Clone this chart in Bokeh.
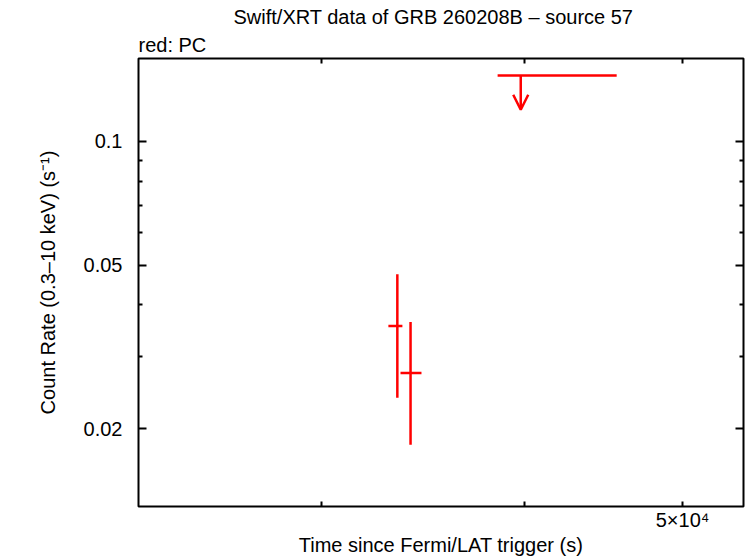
from bokeh.plotting import figure
from bokeh.models import (ColumnDataSource, LogAxis, FixedTicker, Title, Arrow,
                          OpenHead, Range1d)
from bokeh.embed import file_html
from bokeh.resources import INLINE

# ---- data ----
pc_time = [33400, 34030]
pc_time_lo = [32980, 33550]
pc_time_hi = [33640, 34560]
pc_rate = [0.03556, 0.02734]
pc_rate_lo = [0.02378, 0.01829]
pc_rate_hi = [0.04753, 0.03636]

ul_time = [39770]
ul_time_lo = [38490]
ul_time_hi = [45550]
ul_rate = [0.1446]

x_limits = [23160, 54500]
y_limits = [0.01294, 0.159]

x_ticks = [30000, 40000, 50000]
x_tick_labels = ["", "", "5×10⁴"]
y_major_ticks = [0.02, 0.05, 0.1]
y_major_labels = ["0.02", "0.05", "0.1"]
y_minor_ticks = [0.03, 0.04, 0.06, 0.07, 0.08, 0.09]

title_text = "Swift/XRT data of GRB 260208B – source 57"
subtitle_text = "red: PC"
x_label = "Time since Fermi/LAT trigger (s)"
y_label = "Count Rate (0.3–10 keV) (s⁻¹)"

# ---- style ----
FONT = "Liberation Sans"
FS = "20px"
RED = "#ff0000"
LW = 2.5

p = figure(width=746, height=558, x_axis_type="log", y_axis_type="log",
           x_range=Range1d(*x_limits), y_range=Range1d(*y_limits),
           output_backend="svg", toolbar_location=None, title=None,
           min_border_left=138, min_border_right=3,
           min_border_top=58, min_border_bottom=51)
p.grid.visible = False
p.background_fill_color = "white"
p.border_fill_color = "white"
p.outline_line_color = "black"
p.outline_line_width = 2

xt = FixedTicker(ticks=x_ticks, minor_ticks=[])
yt = FixedTicker(ticks=y_major_ticks, minor_ticks=y_minor_ticks)

def style_axis(ax, labels=True, major_len=8):
    ax.axis_line_color = None
    ax.major_tick_in = major_len
    ax.major_tick_out = 0
    ax.minor_tick_in = 4
    ax.minor_tick_out = 0
    ax.major_tick_line_width = 2
    ax.minor_tick_line_width = 2
    ax.major_tick_line_color = "black"
    ax.minor_tick_line_color = "black"
    ax.major_label_text_font = FONT
    ax.major_label_text_font_size = FS if labels else "0px"
    ax.major_label_text_color = "black"
    ax.axis_label_text_font = FONT
    ax.axis_label_text_font_size = FS
    ax.axis_label_text_font_style = "normal"
    ax.axis_label_text_color = "black"
    if not labels:
        ax.major_label_standoff = 0

xa = p.xaxis[0]
xa.ticker = xt
xa.major_label_overrides = dict(zip(x_ticks, x_tick_labels))
xa.axis_label = x_label
style_axis(xa, major_len=5)
xa.major_label_standoff = 2
xa.axis_label_standoff = 0

ya = p.yaxis[0]
ya.ticker = yt
ya.major_label_overrides = dict(zip(y_major_ticks, y_major_labels))
ya.axis_label = y_label
style_axis(ya)
ya.major_label_standoff = 16
ya.axis_label_standoff = 22

top = LogAxis(ticker=xt)
style_axis(top, labels=False, major_len=5)
top.major_label_overrides = {t: "" for t in x_ticks}
p.add_layout(top, "above")

right = LogAxis(ticker=yt)
style_axis(right, labels=False)
right.major_label_overrides = {t: "" for t in y_major_ticks}
p.add_layout(right, "right")

p.add_layout(Title(text=subtitle_text, align="left", text_font=FONT,
                   text_font_size=FS, text_font_style="normal",
                   text_color="black", standoff=6), "above")
p.add_layout(Title(text=title_text, align="left", text_font=FONT,
                   text_font_size=FS, text_font_style="normal",
                   text_color="black", offset=95, standoff=1), "above")

# ---- data marks ----
src = ColumnDataSource(dict(t=pc_time, tlo=pc_time_lo, thi=pc_time_hi,
                            r=pc_rate, rlo=pc_rate_lo, rhi=pc_rate_hi))
p.segment(x0="t", y0="rlo", x1="t", y1="rhi", source=src,
          line_color=RED, line_width=LW)
p.segment(x0="tlo", y0="r", x1="thi", y1="r", source=src,
          line_color=RED, line_width=LW)

ul_src = ColumnDataSource(dict(t=ul_time, tlo=ul_time_lo, thi=ul_time_hi,
                               r=ul_rate))
p.segment(x0="tlo", y0="r", x1="thi", y1="r", source=ul_src,
          line_color=RED, line_width=LW)
ARROW_FACTOR = 0.825
for t, r in zip(ul_time, ul_rate):
    p.add_layout(Arrow(x_start=t, y_start=r, x_end=t, y_end=r * ARROW_FACTOR,
                       line_color=RED, line_width=LW,
                       end=OpenHead(size=15, line_color=RED, line_width=LW)))

open("out.html", "w").write(file_html(p, INLINE))
